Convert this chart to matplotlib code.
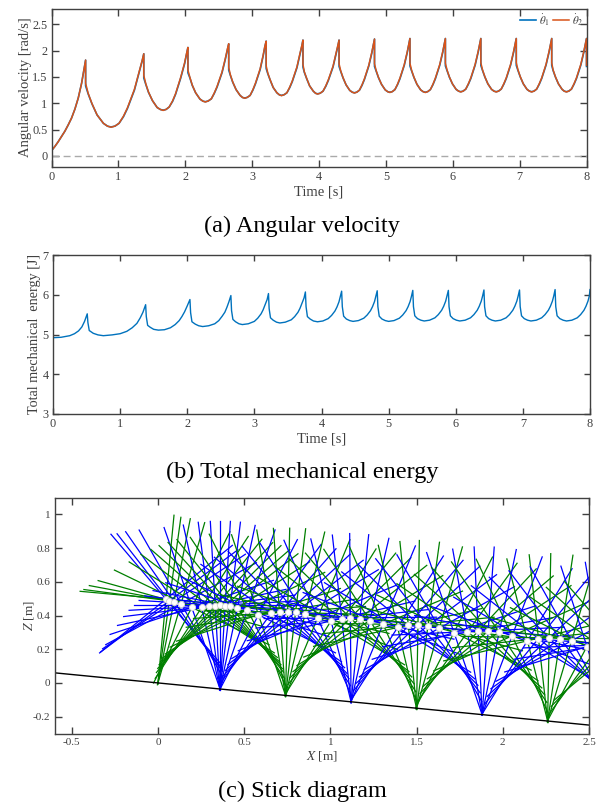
import numpy as np
import matplotlib
matplotlib.use("Agg")
import matplotlib.pyplot as plt

plt.rcParams['font.family'] = ['Liberation Serif', 'DejaVu Serif']
plt.rcParams['mathtext.fontset'] = 'stix'

W, H = 602, 808
DARK = '#404040'
BLUE = '#0072BD'
RED = '#D95319'

# angular velocity, read arc by arc
vel_t = [0, .05, .1, .15, .2, .25, .3, .35, .4, .45, .51,
         .51, .548, .605, .681, .776, .837, .89, .949, 1.01, 1.076, 1.135, 1.24, 1.31, 1.355, 1.38,
         1.38, 1.41, 1.45, 1.51, 1.58, 1.629, 1.67, 1.714, 1.76, 1.811, 1.855, 1.93, 1.99, 2.02, 2.04,
         2.04, 2.07, 2.105, 2.155, 2.22, 2.264, 2.30, 2.342, 2.39, 2.433, 2.475, 2.55, 2.60, 2.63, 2.65,
         2.65, 2.675, 2.71, 2.76, 2.82, 2.856, 2.89, 2.928, 2.97, 3.012, 3.05, 3.12, 3.165, 3.19, 3.21,
         3.21, 3.235, 3.27, 3.315, 3.37, 3.408, 3.44, 3.478, 3.52, 3.562, 3.60, 3.67, 3.715, 3.745, 3.76,
         3.76, 3.78, 3.815, 3.86, 3.915, 3.949, 3.98, 4.018, 4.06, 4.102, 4.14, 4.21, 4.255, 4.285, 4.30,
         4.30, 4.325, 4.36, 4.405, 4.46, 4.498, 4.53, 4.566, 4.605, 4.644, 4.68, 4.745, 4.79, 4.815, 4.83,
         4.83, 4.855, 4.89, 4.935, 4.99, 5.028, 5.06, 5.096, 5.135, 5.174, 5.21, 5.275, 5.32, 5.345, 5.36,
         5.36, 5.385, 5.42, 5.465, 5.52, 5.558, 5.59, 5.626, 5.665, 5.704, 5.74, 5.805, 5.85, 5.875, 5.89,
         5.89, 5.915, 5.95, 5.995, 6.05, 6.088, 6.12, 6.156, 6.195, 6.234, 6.27, 6.335, 6.38, 6.405, 6.42,
         6.42, 6.445, 6.48, 6.525, 6.58, 6.618, 6.65, 6.686, 6.725, 6.764, 6.80, 6.865, 6.91, 6.935, 6.95,
         6.95, 6.975, 7.01, 7.055, 7.11, 7.148, 7.18, 7.216, 7.255, 7.294, 7.33, 7.395, 7.44, 7.465, 7.48,
         7.48, 7.50, 7.535, 7.58, 7.635, 7.668, 7.70, 7.736, 7.775, 7.814, 7.85, 7.915, 7.96, 7.985, 8.0, 8.0]
theta1 = [.10, .18, .27, .37, .47, .59, .72, .89, 1.10, 1.38, 1.82,
          1.33, 1.18, .99, .78, .62, .566, .55, .567, .62, .745, .90, 1.25, 1.58, 1.80, 1.94,
          1.48, 1.36, 1.21, 1.05, .92, .882, .87, .884, .93, 1.037, 1.17, 1.47, 1.75, 1.94, 2.06,
          1.58, 1.48, 1.34, 1.20, 1.08, 1.041, 1.03, 1.043, 1.085, 1.184, 1.305, 1.58, 1.84, 2.02, 2.13,
          1.63, 1.53, 1.40, 1.26, 1.15, 1.111, 1.10, 1.113, 1.15, 1.251, 1.37, 1.64, 1.90, 2.07, 2.18,
          1.66, 1.56, 1.44, 1.30, 1.20, 1.16, 1.15, 1.163, 1.20, 1.297, 1.41, 1.675, 1.93, 2.095, 2.20,
          1.69, 1.59, 1.47, 1.33, 1.23, 1.19, 1.18, 1.192, 1.23, 1.323, 1.435, 1.69, 1.935, 2.10, 2.20,
          1.70, 1.605, 1.48, 1.35, 1.245, 1.21, 1.20, 1.212, 1.25, 1.343, 1.455, 1.71, 1.955, 2.12, 2.22,
          1.70, 1.61, 1.485, 1.36, 1.255, 1.22, 1.21, 1.222, 1.26, 1.353, 1.465, 1.72, 1.965, 2.13, 2.23,
          1.71, 1.615, 1.49, 1.36, 1.255, 1.22, 1.21, 1.222, 1.26, 1.353, 1.465, 1.72, 1.965, 2.13, 2.23,
          1.71, 1.62, 1.495, 1.37, 1.265, 1.23, 1.22, 1.232, 1.27, 1.363, 1.47, 1.725, 1.97, 2.13, 2.23,
          1.72, 1.625, 1.50, 1.37, 1.265, 1.23, 1.22, 1.232, 1.27, 1.363, 1.47, 1.725, 1.97, 2.13, 2.23,
          1.72, 1.625, 1.50, 1.37, 1.265, 1.23, 1.22, 1.232, 1.27, 1.363, 1.47, 1.725, 1.97, 2.13, 2.23,
          1.72, 1.625, 1.50, 1.37, 1.265, 1.23, 1.22, 1.232, 1.27, 1.363, 1.47, 1.725, 1.97, 2.13, 2.23, 1.70]
# theta2 sits a hair off theta1, this is the gap along one arc
theta2_gap = [.05, .01, .005, 0, 0, 0, -.005, 0, 0, .01, .012, .015, .015, .01, 0]

# mechanical energy
energy_t = [0, .12, .25, .32, .38, .43, .47, .51,
            .52, .54, .6, .67, .75, .88, 1, 1.1, 1.18, 1.25, 1.3, 1.34, 1.38,
            1.39, 1.41, 1.45, 1.50, 1.57, 1.66, 1.75, 1.82, 1.88, 1.92, 1.96, 2.0, 2.04,
            2.05, 2.07, 2.12, 2.17, 2.23, 2.32, 2.41, 2.47, 2.52, 2.56, 2.59, 2.62, 2.65,
            2.66, 2.68, 2.72, 2.77, 2.82, 2.91, 3.0, 3.05, 3.1, 3.13, 3.16, 3.19, 3.21,
            3.22, 3.24, 3.28, 3.33, 3.38, 3.46, 3.55, 3.60, 3.65, 3.68, 3.71, 3.74, 3.76,
            3.77, 3.79, 3.83, 3.88, 3.94, 4.02, 4.10, 4.15, 4.20, 4.23, 4.26, 4.28, 4.30,
            4.31, 4.33, 4.37, 4.42, 4.47, 4.55, 4.63, 4.68, 4.73, 4.76, 4.79, 4.81, 4.83,
            4.84, 4.86, 4.9, 4.95, 5.0, 5.08, 5.16, 5.21, 5.26, 5.29, 5.32, 5.34, 5.36,
            5.37, 5.39, 5.43, 5.48, 5.53, 5.61, 5.69, 5.74, 5.79, 5.82, 5.85, 5.87, 5.89,
            5.90, 5.92, 5.96, 6.01, 6.06, 6.14, 6.22, 6.27, 6.32, 6.35, 6.38, 6.40, 6.42,
            6.43, 6.45, 6.49, 6.54, 6.59, 6.67, 6.75, 6.80, 6.85, 6.88, 6.91, 6.93, 6.95,
            6.96, 6.98, 7.02, 7.07, 7.12, 7.20, 7.28, 7.33, 7.38, 7.41, 7.44, 7.46, 7.48,
            7.49, 7.51, 7.55, 7.60, 7.65, 7.73, 7.81, 7.86, 7.91, 7.94, 7.97, 7.99, 8.0]
energy = [4.92, 4.93, 4.97, 5.02, 5.09, 5.19, 5.33, 5.52,
          5.3, 5.1, 5.03, 4.99, 4.97, 4.99, 5.02, 5.08, 5.17, 5.28, 5.42, 5.56, 5.75,
          5.45, 5.23, 5.18, 5.13, 5.11, 5.12, 5.17, 5.25, 5.35, 5.45, 5.57, 5.72, 5.88,
          5.55, 5.32, 5.26, 5.22, 5.2, 5.22, 5.27, 5.35, 5.46, 5.56, 5.68, 5.82, 5.98,
          5.6, 5.38, 5.32, 5.27, 5.25, 5.27, 5.33, 5.41, 5.52, 5.62, 5.75, 5.88, 6.03,
          5.65, 5.42, 5.36, 5.31, 5.29, 5.31, 5.37, 5.45, 5.56, 5.66, 5.79, 5.92, 6.07,
          5.7, 5.45, 5.39, 5.34, 5.32, 5.34, 5.40, 5.48, 5.59, 5.69, 5.82, 5.95, 6.09,
          5.7, 5.46, 5.39, 5.35, 5.33, 5.35, 5.41, 5.49, 5.60, 5.70, 5.83, 5.96, 6.10,
          5.7, 5.46, 5.39, 5.35, 5.33, 5.35, 5.41, 5.49, 5.60, 5.70, 5.83, 5.96, 6.11,
          5.7, 5.47, 5.4, 5.36, 5.34, 5.36, 5.42, 5.50, 5.61, 5.71, 5.84, 5.97, 6.11,
          5.7, 5.47, 5.4, 5.36, 5.34, 5.36, 5.42, 5.50, 5.61, 5.71, 5.84, 5.97, 6.12,
          5.7, 5.47, 5.4, 5.36, 5.34, 5.36, 5.42, 5.50, 5.61, 5.71, 5.84, 5.97, 6.12,
          5.7, 5.47, 5.4, 5.36, 5.34, 5.36, 5.42, 5.50, 5.61, 5.71, 5.84, 5.97, 6.13,
          5.7, 5.47, 5.4, 5.36, 5.34, 5.36, 5.42, 5.50, 5.61, 5.71, 5.84, 5.97, 6.13]

# stick diagram: contact points, then the hub positions while each one is in contact
foot_x = [0, .36, .74, 1.12, 1.50, 1.88, 2.26, 2.64]
foot_z = [0, -.036, -.074, -.112, -.15, -.188, -.226, -.264]
hub_x = [[.0465, .0659, .093, .134],
         [.196, .254, .297, .332, .36, .39, .419, .461, .519],
         [.583, .657, .705, .752, .798, .853, .926],
         [1.004, 1.066, 1.116, 1.171, 1.229, 1.306],
         [1.39, 1.452, 1.508, 1.566, 1.632],
         [1.717, 1.795, 1.857, 1.915, 1.979, 2.054],
         [2.143, 2.207, 2.269, 2.333, 2.399],
         [2.488, 2.56, 2.62, 2.68]]
hub_z = [[.497, .487, .483, .47],
         [.448, .448, .457, .459, .461, .459, .457, .445, .434],
         [.404, .414, .418, .418, .418, .408, .386],
         [.368, .38, .386, .382, .37, .349],
         [.329, .341, .345, .339, .325],
         [.299, .301, .307, .307, .301, .279],
         [.25, .263, .267, .263, .25],
         [.216, .222, .228, .222]]
ground_x = [-.6, 2.5]
ground_z = [.06, -.25]
spoke_len = .5


def make_axes(left, top, right, bottom):
    ax = fig.add_axes([left / W, 1 - bottom / H, (right - left) / W, (bottom - top) / H])
    ax.tick_params(direction='in', top=True, right=True, length=5, width=1, colors=DARK, pad=3)
    for s in ax.spines.values():
        s.set_color(DARK)
        s.set_linewidth(1)
    return ax


fig = plt.figure(figsize=(W / 100, H / 100), dpi=100)

# (a)
ax = make_axes(51.5, 8.5, 586.5, 166.5)
ax.axhline(0, color='#aaaaaa', lw=1, ls=(0, (5, 3)))
gap = [0] * 11 + theta2_gap * 13 + [.02]
ax.plot(vel_t, theta1, color=BLUE, lw=1.2, label=r'$\dot{\theta}_1$')
ax.plot(vel_t, np.array(theta1) + np.array(gap), color=RED, lw=1.1, label=r'$\dot{\theta}_2$')
ax.set_xlim(0, 8)
ax.set_ylim(-.2, 2.8)
ax.set_yticks([0, .5, 1, 1.5, 2, 2.5])
ax.set_yticklabels(['0', '0.5', '1', '1.5', '2', '2.5'])
ax.tick_params(labelsize=8.8)
ax.set_xlabel('Time [s]', fontsize=10.5, color=DARK, labelpad=2)
ax.set_ylabel('Angular velocity [rad/s]', fontsize=10.5, color=DARK, labelpad=0)
leg = ax.legend(ncol=2, frameon=False, loc='upper right', fontsize=8, handlelength=1.45,
                handletextpad=.25, columnspacing=.35, borderaxespad=.1, borderpad=.2, labelcolor=DARK)

# (b)
ax = make_axes(53, 255, 590, 414)
ax.plot(energy_t, energy, color=BLUE, lw=1)
ax.set_xlim(0, 8)
ax.set_ylim(3, 7)
ax.set_yticks([3, 4, 5, 6, 7])
ax.tick_params(labelsize=8.8, length=4)
ax.set_xlabel('Time [s]', fontsize=10.5, color=DARK, labelpad=2)
ax.set_ylabel('Total mechanical  energy [J]', fontsize=10.2, color=DARK, labelpad=1)

# (c)
ax = make_axes(54.5, 497.5, 589, 733.5)
for i in range(len(foot_x)):
    stance = '#007F00' if i % 2 == 0 else '#0000FF'
    other = '#0000FF' if i % 2 == 0 else '#007F00'
    for hx, hz in zip(hub_x[i], hub_z[i]):
        phi = np.arctan2(hx - foot_x[i], hz - foot_z[i])
        for k in range(4):
            a = phi + k * np.pi / 2
            ax.plot([hx, hx - spoke_len * np.sin(a)], [hz, hz - spoke_len * np.cos(a)], color=stance, lw=.9)
            a = phi - np.pi / 4 + k * np.pi / 2
            ax.plot([hx, hx - spoke_len * np.sin(a)], [hz, hz - spoke_len * np.cos(a)], color=other, lw=.9)
ax.plot(sum(hub_x, []), sum(hub_z, []), ls='none', marker='o', ms=4.4, mfc='white', mec='#d5d5d5', mew=.7)
ax.plot(ground_x, ground_z, color='black', lw=1)
ax.set_xlim(-.6, 2.5)
ax.set_ylim(-.3, 1.1)
ax.set_xticks([-.5, 0, .5, 1, 1.5, 2, 2.5])
ax.set_xticklabels(['-0.5', '0', '0.5', '1', '1.5', '2', '2.5'])
ax.set_yticks([-.2, 0, .2, .4, .6, .8, 1])
ax.set_yticklabels(['-0.2', '0', '0.2', '0.4', '0.6', '0.8', '1'])
ax.tick_params(labelsize=8)
ax.set_xlabel('$X$ [m]', fontsize=9.5, color=DARK, labelpad=2)
ax.set_ylabel('$Z$ [m]', fontsize=9.5, color=DARK, labelpad=-2)

fig.text(302 / W, 1 - 226 / H, '(a) Angular velocity', ha='center', va='center', fontsize=17.5, color='black')
fig.text(302 / W, 1 - 472 / H, '(b) Total mechanical energy', ha='center', va='center', fontsize=17.5, color='black')
fig.text(302 / W, 1 - 791 / H, '(c) Stick diagram', ha='center', va='center', fontsize=17.5, color='black')

fig.savefig('out.png', dpi=100)
